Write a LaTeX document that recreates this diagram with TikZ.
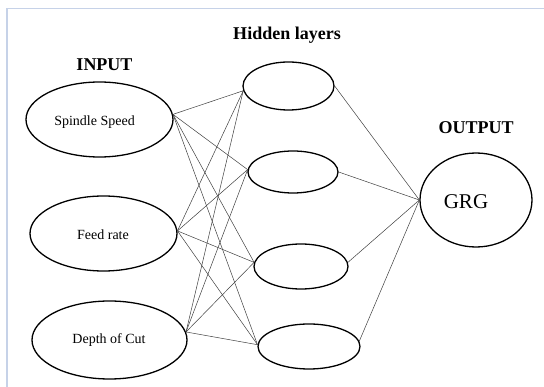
\documentclass[tikz,border=0pt]{standalone}
\usepackage{fontspec}
\setmainfont{Liberation Serif}
\usetikzlibrary{shapes.geometric}
\definecolor{framecol}{RGB}{198,210,232}
\tikzset{
  neuron/.style={ellipse, draw=black, line width=1.3pt, inner sep=0pt},
  head/.style={font=\fontsize{18}{20}\selectfont\bfseries, inner sep=0pt},
  intext/.style={font=\fontsize{14}{16}\selectfont, inner sep=0pt},
  link/.style={draw=black!75, line width=0.5pt},
}
\begin{document}
\begin{tikzpicture}[x=1pt,y=-1pt]
\useasboundingbox (0,0) rectangle (544,387);
\fill[white] (0,0) rectangle (544,387);
\draw[framecol, line width=1.5pt] (7,387) -- (7,8.5) -- (544,8.5);

% input layer
\node[neuron, minimum width=147pt, minimum height=75pt] (in1) at (99.5,119.5) {};
\node[neuron, minimum width=147pt, minimum height=75pt] (in2) at (103.5,233.5) {};
\node[neuron, minimum width=155pt, minimum height=78pt] (in3) at (109.5,340) {};
% hidden layer
\node[neuron, minimum width=91pt, minimum height=48pt] (h1) at (288.5,86) {};
\node[neuron, minimum width=90pt, minimum height=42pt] (h2) at (293,172) {};
\node[neuron, minimum width=94pt, minimum height=45pt] (h3) at (301,266.5) {};
\node[neuron, minimum width=102pt, minimum height=45pt] (h4) at (309,346.5) {};
% output
\node[neuron, minimum width=112pt, minimum height=94pt] (out) at (476,200) {};

% texts
\node[head] (thid) at (287,35) {Hidden layers};
\node[head] (tin) at (104.5,65) {INPUT};
\node[head] (tout) at (476,128) {OUTPUT};
\node[intext] (t1) at (94.5,122) {Spindle Speed};
\node[intext] (t2) at (103,235) {Feed rate};
\node[intext] (t3) at (109,340) {Depth of Cut};
\node[font=\fontsize{21}{23}\selectfont, inner sep=0pt] (tgrg) at (466,202) {GRG};

% input -> hidden
\foreach \i/\a in {in1/4,in2/2,in3/6}{
  \draw[link] (\i.\a) -- (h1.186);
  \draw[link] (\i.\a) -- (h2.177);
  \draw[link] (\i.\a) -- (h3.175);
  \draw[link] (\i.\a) -- (h4.178);
}
% hidden -> output
\draw[link] (h1.east) -- (out.west);
\draw[link] (h2.east) -- (out.west);
\draw[link] (h3.5) -- (out.west);
\draw[link] (h4.6) -- (out.west);
\end{tikzpicture}
\end{document}
